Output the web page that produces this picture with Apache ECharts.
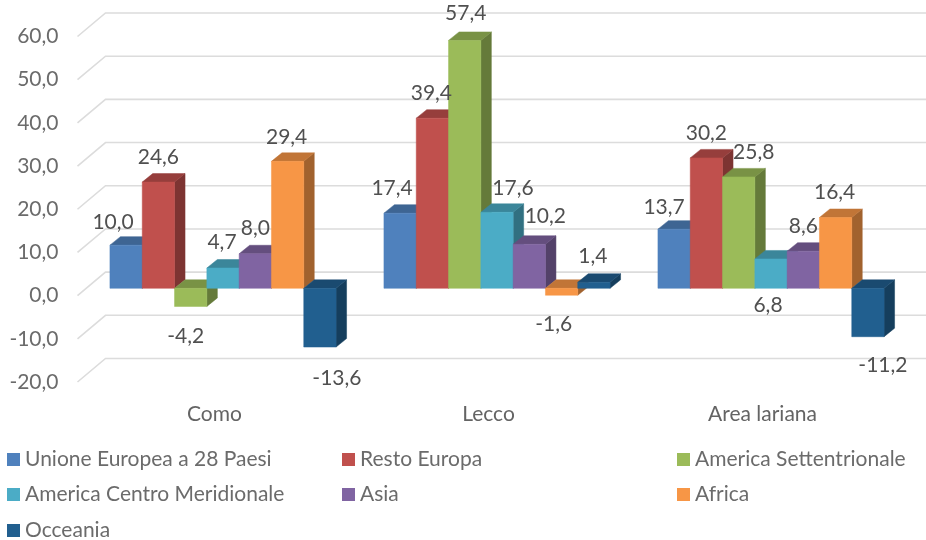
<!DOCTYPE html>
<html>
<head>
<meta charset="utf-8">
<style>html,body{margin:0;padding:0;background:#fff}#c{width:926px;height:540px}</style>
<script src="https://cdn.jsdelivr.net/npm/echarts@6/dist/echarts.min.js"></script>
</head>
<body>
<div id="c"></div>
<script>
// ---- data ----
const categories = ['Como', 'Lecco', 'Area lariana'];
const seriesNames = ['Unione Europea a 28 Paesi', 'Resto Europa', 'America Settentrionale',
  'America Centro Meridionale', 'Asia', 'Africa', 'Occeania'];
const unioneEuropea = [10.0, 17.4, 13.7];
const restoEuropa = [24.6, 39.4, 30.2];
const americaSett = [-4.2, 57.4, 25.8];
const americaCentro = [4.7, 17.6, 6.8];
const asia = [8.0, 10.2, 8.6];
const africa = [29.4, -1.6, 16.4];
const occeania = [-13.6, 1.4, -11.2];
const gridTicks = [-20, -10, 0, 10, 20, 30, 40, 50, 60];

// ---- style ----
const allValues = [unioneEuropea, restoEuropa, americaSett, americaCentro, asia, africa, occeania];
const colors = ['#4f81bd', '#c0504d', '#9bbb59', '#4bacc6', '#8064a2', '#f79646', '#215f8f'];
const FONT = 'Lato, "Open Sans", sans-serif';
const WALL_DX = 28, WALL_DY = -23.5;     // floor depth of the left wall
const BAR_DX = 10.5, BAR_DY = -8.5;      // depth of a bar
const BAR_PLANE_DY = -7.3;               // bars stand slightly behind the front plane
const GROUP_SHIFT = 8.5;                 // bars' centre vs. category label
const BAR_RATIO = 0.1179;                // bar width / category band
// hand-placed label offsets [series][category] from the bar end
const labelShift = [
  [[-13, -23], [-8, -25], [-10, -22]],
  [[0, -25], [-1, -25], [0, -25]],
  [[-5, 30], [1, -27], [15, -25]],
  [[-1, -26], [16, -24], [-3, 46]],
  [[0, -26], [16, -28], [0, -25]],
  [[-1, -24], [-8, 29], [-1, -25]],
  [[17, 31], [-1, -26], [15, 29]]
];
const legendPos = [[7, 449], [342, 449], [677, 449], [7, 484], [342, 484], [677, 484], [7, 520]];

const fmt = v => v.toFixed(1).replace('.', ',');
const dark = (c, k) => {
  const n = parseInt(c.slice(1), 16);
  const f = x => Math.round(x * (1 - k));
  return 'rgb(' + f(n >> 16) + ',' + f((n >> 8) & 255) + ',' + f(n & 255) + ')';
};

function barSeries(s) {
  return {
    name: seriesNames[s], type: 'custom', coordinateSystem: 'cartesian2d', z: 3,
    itemStyle: { color: colors[s] },
    encode: { x: 0, y: 1 },
    data: allValues[s].map((v, c) => [c, v]),
    renderItem(params, api) {
      const band = api.size([1, 0])[0], w = band * BAR_RATIO;
      const top = api.coord([api.value(0), api.value(1)]);
      const base = api.coord([api.value(0), 0]);
      const x0 = top[0] + GROUP_SHIFT + (s - 3.5) * w, x1 = x0 + w;
      const yv = top[1] + BAR_PLANE_DY, y0 = base[1] + BAR_PLANE_DY;
      const yTop = Math.min(yv, y0), yBot = Math.max(yv, y0);
      const c = colors[s];
      const poly = (points, fill, stroke) => ({
        type: 'polygon', shape: { points },
        style: { fill, stroke: stroke || fill, lineWidth: stroke ? 1 : 0.5 }
      });
      return {
        type: 'group', children: [
          poly([[x1, yTop], [x1 + BAR_DX, yTop + BAR_DY], [x1 + BAR_DX, yBot + BAR_DY], [x1, yBot]], dark(c, 0.35)),
          poly([[x0, yTop], [x1, yTop], [x1 + BAR_DX, yTop + BAR_DY], [x0 + BAR_DX, yTop + BAR_DY]], dark(c, 0.22)),
          poly([[x0, yTop], [x1, yTop], [x1, yBot], [x0, yBot]], c)
        ]
      };
    }
  };
}

const wallSeries = {
  type: 'custom', coordinateSystem: 'cartesian2d', z: 1, silent: true,
  encode: { x: 0, y: 1 },
  data: gridTicks.map(v => [0, v]),
  renderItem(params, api) {
    const cs = params.coordSys;
    const y = api.coord([0, api.value(1)])[1];
    return {
      type: 'polyline',
      shape: { points: [[cs.x, y], [cs.x + WALL_DX, y + WALL_DY], [cs.x + cs.width + WALL_DX, y + WALL_DY]] },
      style: { fill: null, stroke: '#dcdcdc', lineWidth: 1.6 }
    };
  }
};

const labelRows = [];
allValues.forEach((vals, s) => vals.forEach((v, c) => labelRows.push([c, v, s])));
const labelSeries = {
  type: 'custom', coordinateSystem: 'cartesian2d', z: 5, silent: true,
  encode: { x: 0, y: 1 },
  data: labelRows,
  renderItem(params, api) {
    const c = api.value(0), v = api.value(1), s = api.value(2);
    const w = api.size([1, 0])[0] * BAR_RATIO;
    const p = api.coord([c, v]);
    const sh = labelShift[s][c];
    return {
      type: 'text',
      style: {
        x: p[0] + GROUP_SHIFT + (s - 3) * w + sh[0],
        y: p[1] + BAR_PLANE_DY + sh[1],
        text: fmt(v), fill: '#505050', font: '21px ' + FONT,
        align: 'center', verticalAlign: 'middle'
      }
    };
  }
};

const chart = echarts.init(document.getElementById('c'));
chart.setOption({
  animation: false,
  backgroundColor: '#fff',
  grid: { left: 77.5, right: 26.5, top: 36.5, height: 345.5, containLabel: false },
  legend: seriesNames.map((n, i) => ({
    data: [n], left: legendPos[i][0], top: legendPos[i][1],
    icon: 'rect', itemWidth: 13, itemHeight: 13, itemGap: 0, padding: 0,
    selectedMode: false,
    textStyle: { color: '#6b6b6b', fontFamily: FONT, fontSize: 21, padding: [0, 0, 0, 0] }
  })),
  xAxis: {
    type: 'category', data: categories, position: 'bottom',
    axisLine: { show: false, onZero: false }, axisTick: { show: false },
    axisLabel: { color: '#646464', fontFamily: FONT, fontSize: 21, margin: 22 }
  },
  yAxis: {
    type: 'value', min: -20, max: 60, interval: 10,
    axisLine: { show: false }, axisTick: { show: false }, splitLine: { show: false },
    axisLabel: { color: '#6b6b6b', fontFamily: FONT, fontSize: 21, margin: 19, padding: [4, 0, 0, 0], formatter: fmt }
  },
  series: [wallSeries].concat(seriesNames.map((n, s) => barSeries(s)), [labelSeries])
});
</script>
</body>
</html>
